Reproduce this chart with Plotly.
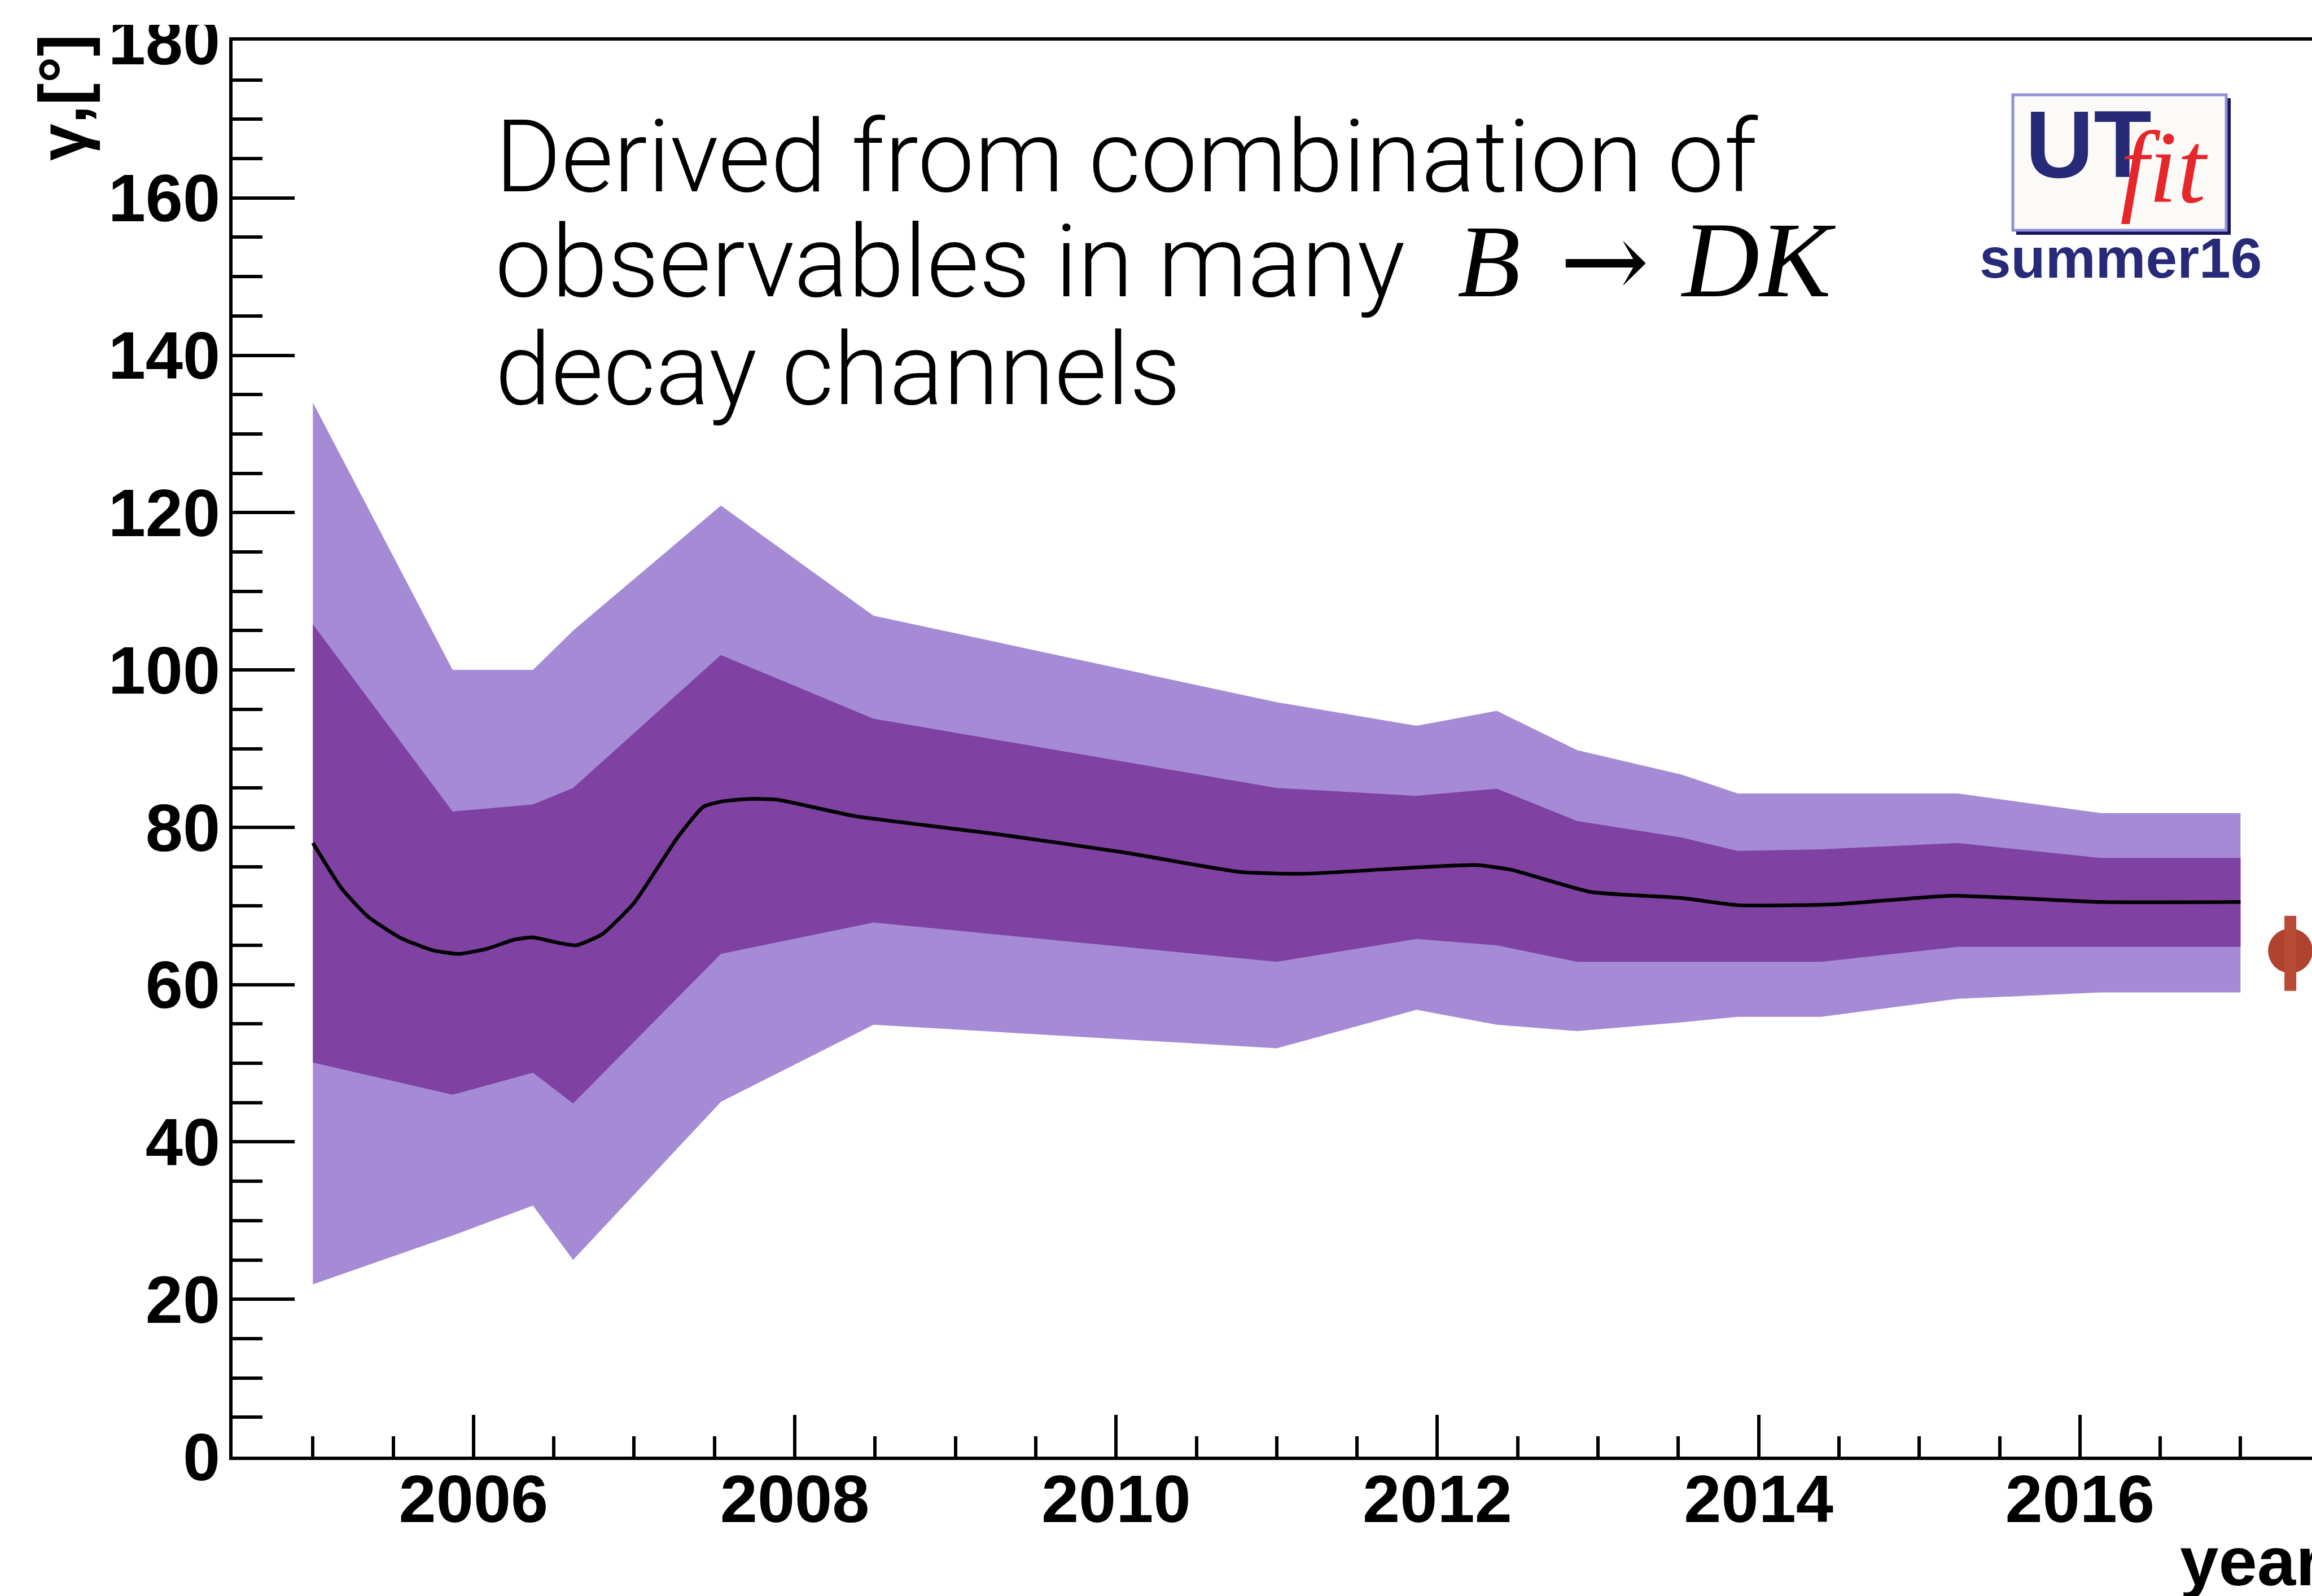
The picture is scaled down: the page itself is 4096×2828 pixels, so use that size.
import plotly.graph_objects as go

# ---------------- data ----------------
band_years = [2005.0, 2005.87, 2006.37, 2006.62, 2007.54, 2008.49, 2011.0, 2011.87,
              2012.37, 2012.87, 2013.52, 2013.87, 2014.39, 2015.24, 2016.13, 2017.0]
outer_hi = [134.0, 100.0, 100.0, 105.0, 120.9, 106.9, 95.9, 92.9,
            94.8, 89.8, 86.7, 84.3, 84.3, 84.3, 81.8, 81.8]
inner_hi = [105.8, 82.0, 82.9, 85.0, 101.9, 93.8, 85.0, 84.0,
            84.9, 80.8, 78.7, 77.0, 77.2, 78.0, 76.1, 76.1]
inner_lo = [50.1, 46.0, 48.8, 44.9, 63.9, 67.9, 62.9, 65.8,
            65.0, 62.9, 62.9, 62.9, 62.9, 64.8, 64.8, 64.8]
outer_lo = [21.9, 28.1, 31.9, 25.0, 45.1, 54.9, 51.9, 56.8,
            54.9, 54.1, 55.2, 55.9, 55.9, 58.2, 59.0, 59.0]

central_years = [2005.0, 2005.18, 2005.34, 2005.54, 2005.74, 2005.91, 2006.09, 2006.25,
                 2006.37, 2006.53, 2006.64, 2006.80, 2007.0, 2007.27, 2007.43, 2007.55,
                 2007.71, 2007.89, 2008.38, 2009.27, 2010.05, 2010.78, 2011.18, 2011.87,
                 2012.24, 2012.46, 2012.95, 2013.52, 2013.87, 2014.47, 2015.20, 2016.13, 2017.0]
central_vals = [78.0, 72.2, 68.7, 66.0, 64.4, 63.9, 64.6, 65.7,
                66.0, 65.3, 65.0, 66.4, 70.4, 78.7, 82.6, 83.3,
                83.6, 83.5, 81.4, 79.1, 76.8, 74.3, 74.1, 74.9,
                75.2, 74.6, 71.8, 71.0, 70.1, 70.2, 71.3, 70.5, 70.5]

meas_year = [2017.31]
meas_val = [64.3]
meas_lo = [59.2]
meas_hi = [68.75]

y_ticks = list(range(0, 181, 20))
x_ticks = [2006, 2008, 2010, 2012, 2014, 2016]

# ---------------- geometry ----------------
W, H = 4096, 2828
L, T, B = 412, 72, 247
PPY = 323.4 * 0.88
XMIN = 2004.5
XMAX = XMIN + (W - L) / PPY


def px(X):
    return (X - L) / (W - L)


def py(Y):
    return (H - B - Y) / (H - T - B)


LIGHT = '#A58AD6'
DARK = '#7F41A2'

fig = go.Figure()

fig.add_trace(go.Scatter(
    x=band_years + band_years[::-1], y=outer_hi + outer_lo[::-1],
    fill='toself', fillcolor=LIGHT, mode='lines', line=dict(width=0),
    hoverinfo='skip', showlegend=False))
fig.add_trace(go.Scatter(
    x=band_years + band_years[::-1], y=inner_hi + inner_lo[::-1],
    fill='toself', fillcolor=DARK, mode='lines', line=dict(width=0),
    hoverinfo='skip', showlegend=False))
fig.add_trace(go.Scatter(
    x=central_years, y=central_vals, mode='lines',
    line=dict(color='black', width=6.5, shape='spline', smoothing=0.5),
    showlegend=False))

# measurement point
fig.add_trace(go.Scatter(
    x=meas_year, y=meas_val, mode='markers', cliponaxis=False,
    marker=dict(symbol='circle', size=79, color='#B0432F', line=dict(width=0)),
    showlegend=False))
fig.add_trace(go.Scatter(
    x=[meas_year[0], meas_year[0]], y=[meas_lo[0], meas_hi[0]], mode='lines',
    cliponaxis=False, line=dict(color='#B84A36', width=21), showlegend=False))

TICKFONT = dict(family='Liberation Sans, Arial', size=119, color='black', weight='bold')

fig.update_layout(
    width=W, height=H,
    margin=dict(l=L, r=0, t=T, b=B, pad=0),
    paper_bgcolor='white', plot_bgcolor='white',
    showlegend=False,
    xaxis=dict(
        range=[XMIN, XMAX], tickvals=x_ticks, ticktext=[str(v) for v in x_ticks],
        ticks='inside', ticklen=74, tickwidth=5.5, tickcolor='black',
        showline=True, linewidth=6, linecolor='black', mirror=True,
        showgrid=False, zeroline=False, tickfont=TICKFONT, ticklabelstandoff=-33,
        minor=dict(dtick=0.5, tick0=2006, ticks='inside', ticklen=36, tickwidth=5.5,
                   tickcolor='black', showgrid=False),
    ),
    yaxis=dict(
        range=[0, 180], tickvals=y_ticks, ticktext=[str(v) for v in y_ticks],
        ticks='inside', ticklen=110, tickwidth=5.5, tickcolor='black',
        showline=True, linewidth=6, linecolor='black', mirror=False,
        showgrid=False, zeroline=False, tickfont=TICKFONT, ticklabelstandoff=-8,
        minor=dict(dtick=5, tick0=0, ticks='inside', ticklen=53, tickwidth=5.5,
                   tickcolor='black', showgrid=False),
    ),
)

annotations = []


def ann(text, X, Ybase, size, family, color='black', weight='normal', style='normal',
        xanchor='left', k=0.35, angle=0, ycenter=None):
    yc = ycenter if ycenter is not None else Ybase - k * size
    annotations.append(dict(
        text=text, xref='paper', yref='paper', x=px(X), y=py(yc),
        xanchor=xanchor, yanchor='middle', showarrow=False, textangle=angle,
        font=dict(family=family, size=size, color=color, weight=weight, style=style)))


MAIN = 'Roboto, Inter, sans-serif'
ann('Derived from combination of', 875, 339, 179, MAIN, weight=300, k=0.34)
ann('observables in many', 875, 525, 179, MAIN, weight=300, k=0.34)
ann('decay channels', 875, 716, 179, MAIN, weight=300, k=0.34)
SERIF = 'Liberation Serif, serif'
ann('<i>B</i>', 2580, 525, 183, SERIF, k=0.3375)
ann('\u2192', 2842, 525, 190, 'DejaVu Serif, serif', xanchor='center', k=0.33)
ann('<i>DK</i>', 2975, 525, 190, SERIF, k=0.3375)

# axis titles
ann('\u03b3,[\u00b0]', 111, None, 118, 'Liberation Sans, Arial', weight='bold', angle=-90,
    xanchor='center', ycenter=173)
ann('year', 3860, 2810, 123, 'Liberation Sans, Arial', weight='bold', k=0.35)

# logo
shapes = [
    dict(type='rect', xref='paper', yref='paper', x0=px(3572), x1=px(3952), y0=py(174), y1=py(416),
         fillcolor='#14145E', line=dict(width=0), layer='above'),
    dict(type='rect', xref='paper', yref='paper', x0=px(3566), x1=px(3944), y0=py(168), y1=py(408),
         fillcolor='#FCFAF7', line=dict(color='#8E90D6', width=5), layer='above'),
    # cut top of the "180" label as in the reference
    dict(type='rect', xref='paper', yref='paper', x0=px(150), x1=px(405), y0=py(0), y1=py(44),
         fillcolor='white', line=dict(width=0), layer='above'),
]
ann('UT', 3586, 314, 168, 'Liberation Sans Narrow, Liberation Sans, Arial', color='#262A78',
    weight='bold', k=0.3465)
ann('<i>fit</i>', 3754, 358, 182, SERIF, color='#E5262B', k=0.3375)
ann('summer16', 3757, 492, 100, 'Liberation Sans, Arial', color='#262A78', weight='bold',
    xanchor='center', k=0.3465)

fig.update_layout(annotations=annotations, shapes=shapes)

fig.write_html('out.html')
